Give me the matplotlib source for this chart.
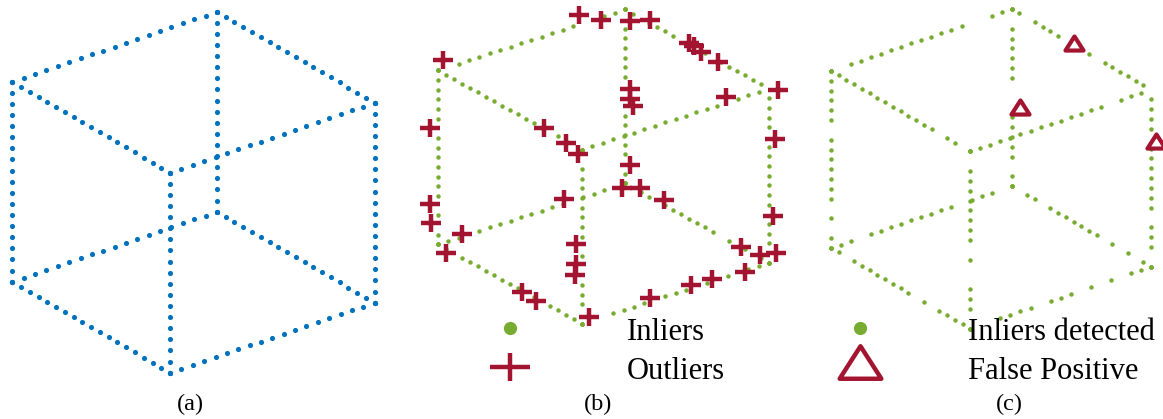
import matplotlib.pyplot as plt
from matplotlib.path import Path
import numpy as np

plt.rcParams['font.family'] = ['Liberation Serif', 'DejaVu Serif']

# cube corners (u, v, w) and edges
corners = {
    'L': (0, 0, 1), 'T': (1, 0, 1), 'R': (1, 1, 1), 'F': (0, 1, 1),
    'Lb': (0, 0, 0), 'Tb': (1, 0, 0), 'Rb': (1, 1, 0), 'Fb': (0, 1, 0),
}
edges = [('L', 'T'), ('T', 'R'), ('R', 'F'), ('L', 'F'),
         ('L', 'Lb'), ('T', 'Tb'), ('F', 'Fb'), ('R', 'Rb'),
         ('Lb', 'Tb'), ('Tb', 'Rb'), ('Rb', 'Fb'), ('Lb', 'Fb')]
n_per_edge = 19

# sample slots on each edge that were turned into outliers (same order as edges)
outlier_slots = [[1, 14, 15], [2, 7, 8, 9, 11, 18], [0, 4], [14, 17],
                 [6, 14, 16], [1, 8, 9, 10, 16], [1, 10, 12, 13, 17], [0, 5, 13, 17],
                 [3, 13, 17], [1, 4, 12, 14, 16], [3, 5, 7, 11, 16, 17], [2, 11, 13]]

# outlier positions in the projected plane
outlier_x = [5.8, 155.2, 179.3, 210.5, 232.5, 275.2, 280.7, 287.8, 306.5, 210.5,
             210.9, 214.1, 315.2, 372.3, 368.8, -8.2, 116.4, 140.9, 153.8, 210.5,
             -8.4, 138.5, 201.8, 221.5, 248.1, 367.0, -6.9, 26.9, 8.8, 151.1,
             151.1, 150.2, 92.7, 107.8, 165.2, 232.8, 277.1, 300.2, 336.6, 332.5,
             353.1, 369.8]
outlier_y = [211.8, 263.2, 258.0, 257.1, 257.8, 231.8, 227.9, 221.0, 210.0, 178.2,
             167.2, 159.0, 169.8, 177.6, 121.0, 134.1, 134.1, 116.1, 103.4, 90.8,
             46.0, 52.5, 65.2, 64.4, 51.1, 32.5, 24.5, 11.5, -10.0, 0.0,
             -22.6, -35.4, -54.6, -65.2, -83.9, -61.3, -46.9, -39.3, -31.8, -2.9,
             -12.4, -10.1]
# outliers accepted as inliers in (c)
false_positive = [5, 11, 14]

panel_labels = ['(a)', '(b)', '(c)']

blue = '#0072BD'
green = '#77AC30'
red = '#A2142F'

# view of the cube
proj = np.array([[205, 158, 0], [70, -91, 200]])

all_x, all_y, in_x, in_y = [], [], [], []
t = np.arange(n_per_edge) / (n_per_edge - 1)
for (a, b), slots in zip(edges, outlier_slots):
    pa = proj @ np.array(corners[a])
    pb = proj @ np.array(corners[b])
    p = pa[:, None] + (pb - pa)[:, None] * t[None, :]
    all_x += list(p[0])
    all_y += list(p[1])
    keep = [k for k in range(n_per_edge) if k not in slots]
    in_x += list(p[0, keep])
    in_y += list(p[1, keep])

W, H = 1163, 419
fig = plt.figure(figsize=(W / 100, H / 100), dpi=100)


def panel(l, t, r, b):
    ax = fig.add_axes([l / W, 1 - b / H, (r - l) / W, (b - t) / H])
    ax.set_xlim(0, 363)
    ax.set_ylim(-91, 270)
    ax.axis('off')
    return ax


plus_small = Path([(-1, 0), (1, 0), (0, -0.86), (0, 0.86)],
                  [Path.MOVETO, Path.LINETO, Path.MOVETO, Path.LINETO])
plus_big = Path([(-1, 0), (1, 0), (0, -0.68), (0, 0.68)],
                [Path.MOVETO, Path.LINETO, Path.MOVETO, Path.LINETO])
tri = Path([(-1, -0.78), (1, -0.78), (0, 0.78), (-1, -0.78)],
           [Path.MOVETO, Path.LINETO, Path.LINETO, Path.CLOSEPOLY])

# (a)
ax1 = panel(12.3, 11.7, 374.7, 372.7)
ax1.plot(all_x, all_y, 'o', color=blue, ms=3.7, mew=0, clip_on=False)

# (b)
ax2 = panel(437.7, 9.5, 769.3, 323.5)
ax2.plot(in_x, in_y, 'o', color=green, ms=3.2, mew=0, clip_on=False)
ax2.plot(outlier_x, outlier_y, ls='none', marker=plus_small, ms=15, mew=3.2,
         color=red, clip_on=False)

# (c)
ax3 = panel(831, 9, 1151, 328.5)
ax3.plot(in_x, in_y, 'o', color=green, ms=3.2, mew=0, clip_on=False)
ax3.plot([outlier_x[i] for i in false_positive], [outlier_y[i] for i in false_positive],
         ls='none', marker=tri, ms=13, mew=3.0, mfc='white', mec=red, clip_on=False)

# legends and labels in pixel space
ov = fig.add_axes([0, 0, 1, 1])
ov.set_xlim(0, W)
ov.set_ylim(H, 0)
ov.axis('off')
ov.patch.set_alpha(0)

ov.plot([510], [328], 'o', color=green, ms=9.5, mew=0)
ov.plot([510], [367], marker=plus_big, ms=29, mew=3.2, color=red)
ov.text(627, 339.5, 'Inliers', fontsize=22, va='baseline')
ov.text(627, 378.5, 'Outliers', fontsize=22, va='baseline')

ov.plot([860], [328], 'o', color=green, ms=9.5, mew=0)
ov.plot([860], [362], marker=tri, ms=30, mew=3.2, mfc='white', mec=red)
ov.text(968, 340, 'Inliers detected', fontsize=22, va='baseline')
ov.text(968, 378.5, 'False Positive', fontsize=22, va='baseline')

for cx, lab in zip([190, 598, 1009], panel_labels):
    ov.text(cx, 410.5, lab, fontsize=17.5, ha='center', va='baseline')

fig.savefig('out.png', dpi=100)
